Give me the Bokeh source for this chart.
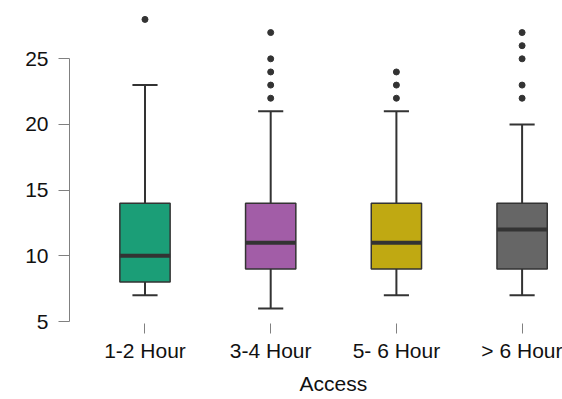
from bokeh.plotting import figure
from bokeh.models import Range1d, FixedTicker, Title
from bokeh.embed import file_html
from bokeh.resources import INLINE

# ---- data ----
categories = ["1-2 Hour", "3-4 Hour", "5- 6 Hour", "> 6 Hour"]
whisker_low = [7, 6, 7, 7]
q1 = [8, 9, 9, 9]
median = [10, 11, 11, 12]
q3 = [14, 14, 14, 14]
whisker_high = [23, 21, 21, 20]
outliers = [[28], [22, 23, 24, 25, 27], [22, 23, 24], [22, 23, 25, 26, 27]]
y_ticks = [5, 10, 15, 20, 25]
x_title = "Access"

colors = ["#1B9E77", "#A25DA7", "#C0A912", "#666666"]
FONT = "Liberation Sans"
DARK = "#333333"

pos = list(range(1, len(categories) + 1))
out_x = [pos[i] for i, o in enumerate(outliers) for _ in o]
out_y = [v for o in outliers for v in o]

p = figure(width=562, height=399, output_backend="svg", toolbar_location=None,
           x_range=Range1d(0.3994, 4.3214), y_range=Range1d(4.85, 29.44),
           min_border_left=69, min_border_right=0, min_border_top=0,
           min_border_bottom=76)
p.outline_line_color = None
p.xgrid.visible = False
p.ygrid.visible = False
p.background_fill_color = "white"
p.border_fill_color = "white"

half_box = 0.2
half_cap = 0.1
xl = [x - half_box for x in pos]
xr = [x + half_box for x in pos]
cl = [x - half_cap for x in pos]
cr = [x + half_cap for x in pos]

# whiskers
p.segment(x0=pos, y0=q3, x1=pos, y1=whisker_high, line_color=DARK, line_width=2)
p.segment(x0=pos, y0=q1, x1=pos, y1=whisker_low, line_color=DARK, line_width=2)
p.segment(x0=cl, y0=whisker_high, x1=cr, y1=whisker_high, line_color=DARK, line_width=2)
p.segment(x0=cl, y0=whisker_low, x1=cr, y1=whisker_low, line_color=DARK, line_width=2)
# boxes
p.vbar(x=pos, bottom=q1, top=q3, width=2 * half_box, fill_color=colors,
       line_color=DARK, line_width=1.5)
# medians
p.segment(x0=xl, y0=median, x1=xr, y1=median, line_color=DARK, line_width=4)
# outliers
p.scatter(x=out_x, y=out_y, size=6, fill_color=DARK, line_color=DARK)

# y axis
ya = p.yaxis[0]
ya.ticker = FixedTicker(ticks=y_ticks)
ya.bounds = (y_ticks[0], y_ticks[-1])
ya.axis_line_color = "#808080"
ya.major_tick_line_color = "#808080"
ya.major_tick_out = 11
ya.major_tick_in = 0
ya.minor_tick_line_color = None
ya.major_label_standoff = 10
ya.major_label_text_font = FONT
ya.major_label_text_font_size = "21px"
ya.major_label_text_color = "#111111"

# x axis
xa = p.xaxis[0]
xa.ticker = FixedTicker(ticks=pos)
xa.major_label_overrides = {x: c for x, c in zip(pos, categories)}
xa.axis_line_color = None
xa.major_tick_line_color = "#808080"
xa.major_tick_out = 10
xa.major_tick_in = 0
xa.minor_tick_line_color = None
xa.major_label_standoff = 5
xa.major_label_text_font = FONT
xa.major_label_text_font_size = "21px"
xa.major_label_text_color = "#111111"

p.add_layout(Title(text=x_title, align="left", offset=230, standoff=10,
                   text_font=FONT, text_font_size="21px", text_font_style="normal",
                   text_color="#111111"), "below")

open("out.html", "w").write(file_html(p, INLINE))
